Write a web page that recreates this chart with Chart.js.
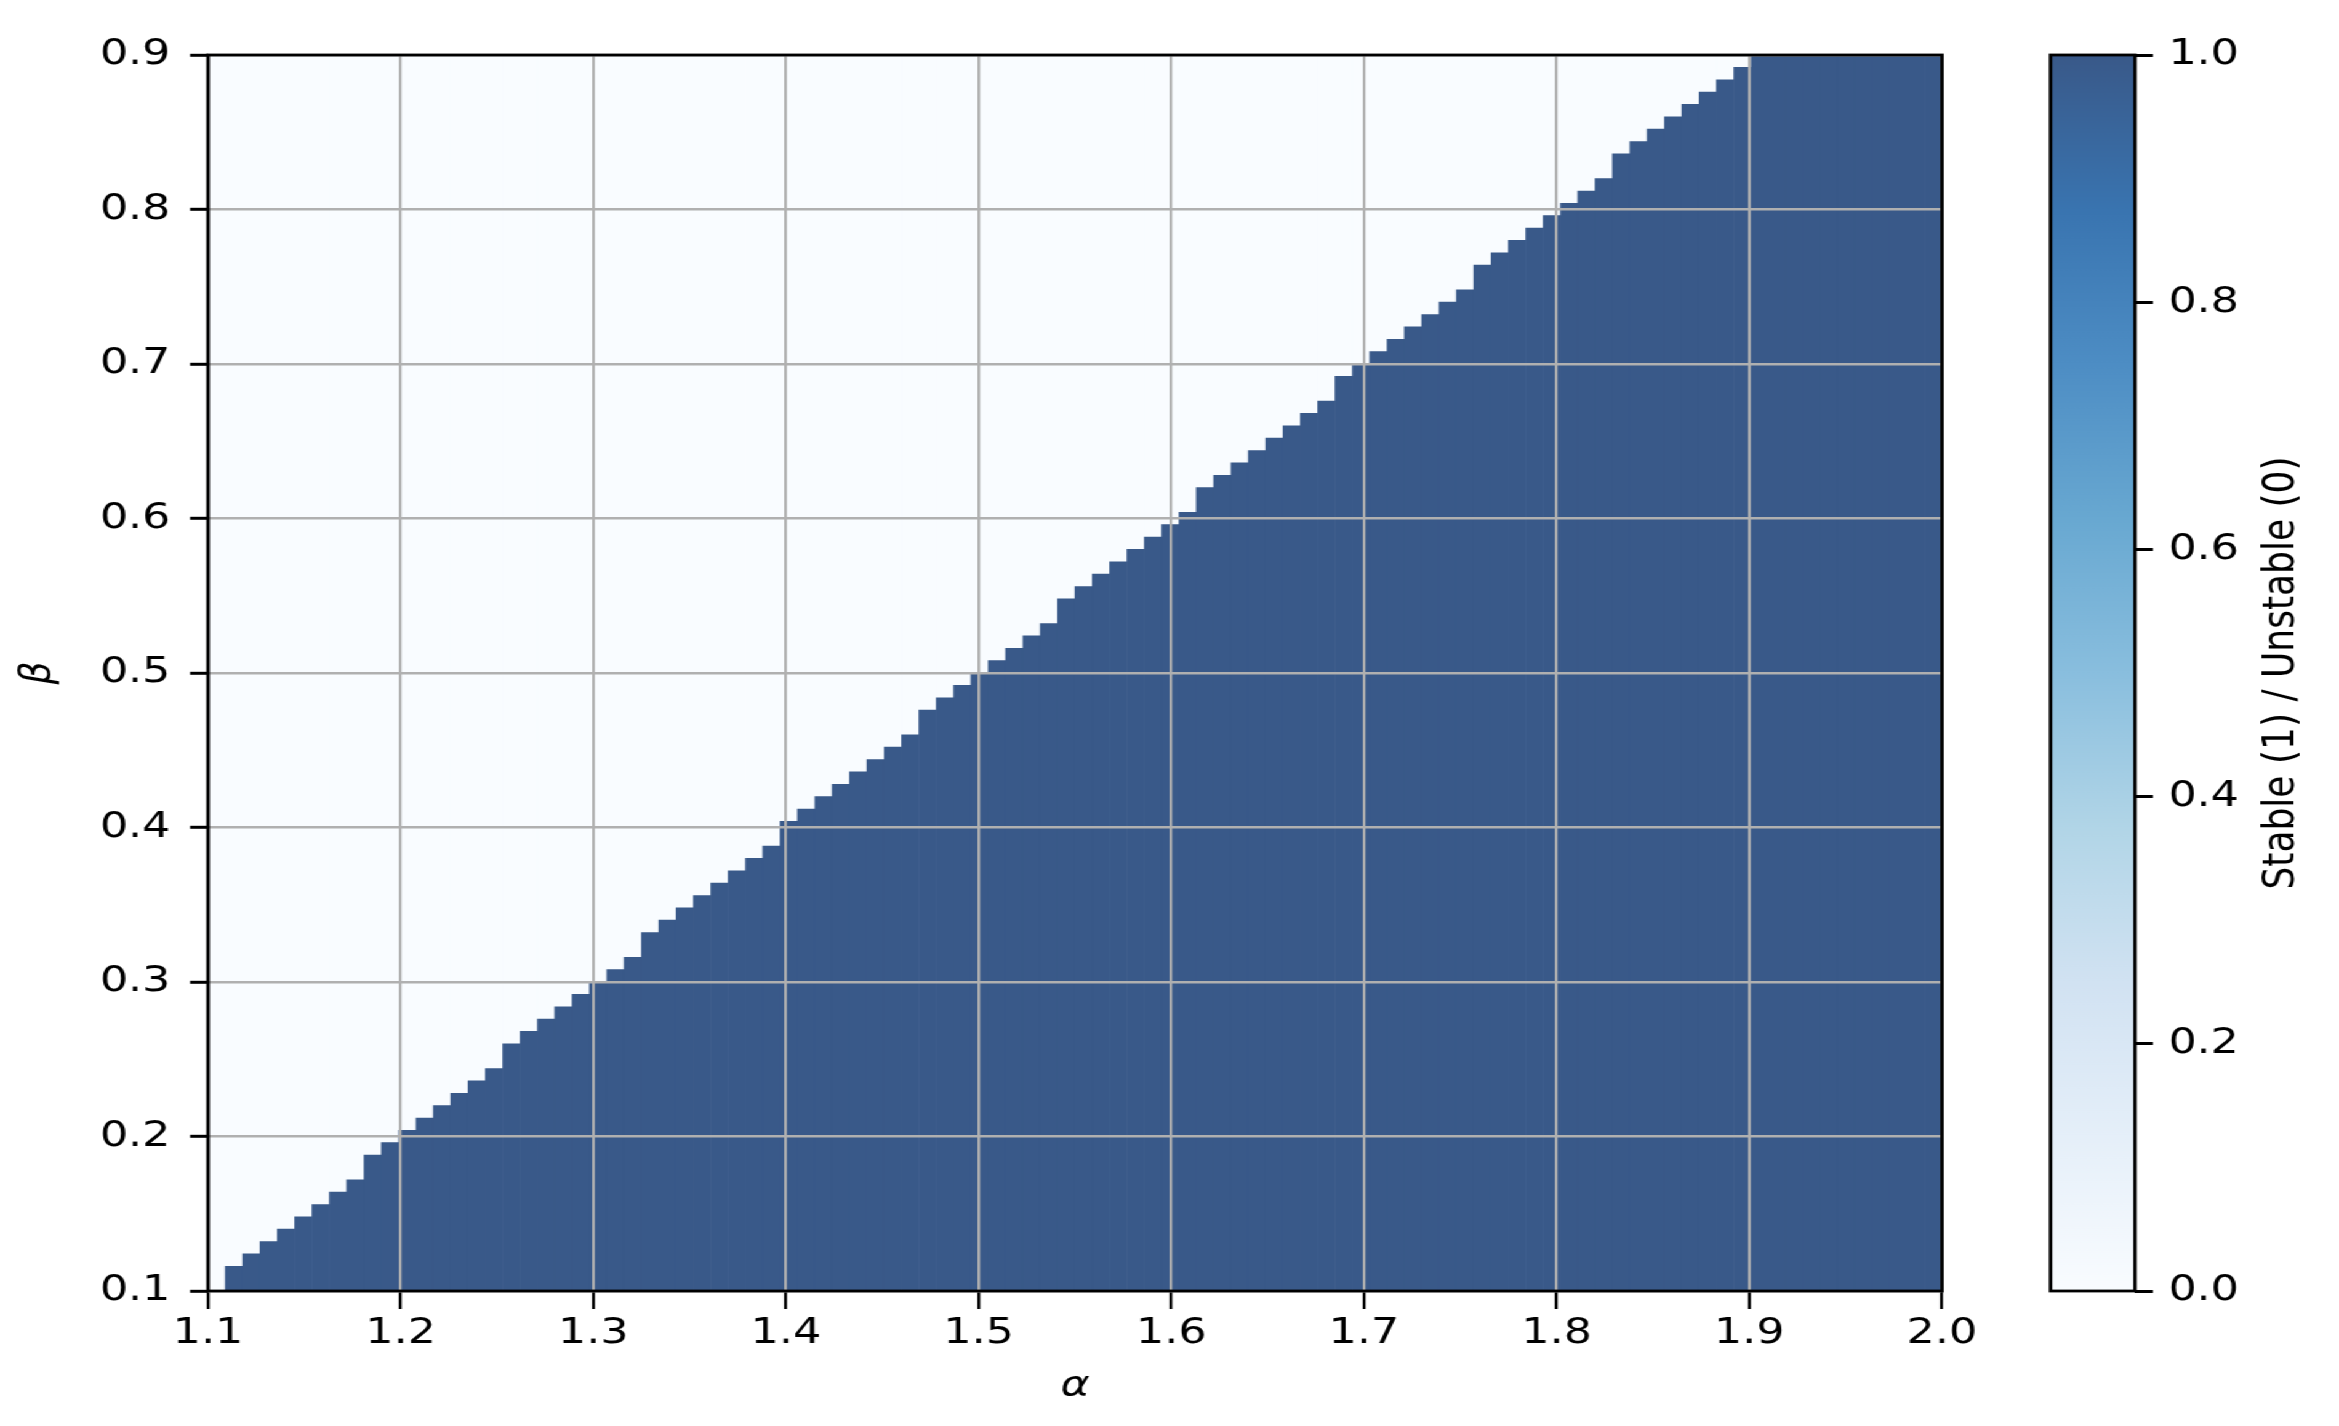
<!DOCTYPE html>
<html>
<head>
<meta charset="utf-8">
<script src="https://cdn.jsdelivr.net/npm/chart.js@4.4.1/dist/chart.umd.min.js"></script>
<style>
  html, body { margin: 0; padding: 0; background: #fff; overflow: hidden; }
  /* the reference is stretched sideways, so draw narrower and scale up */
  #stage { position: relative; width: 1900px; height: 1426px; transform: scaleX(1.231053); transform-origin: 0 0; }
  #stage canvas { position: absolute; left: 0; top: 0; }
</style>
</head>
<body>
<div id="stage">
  <canvas id="heat" width="1900" height="1426"></canvas>
  <canvas id="cbar" width="1900" height="1426"></canvas>
</div>
<script>
// grid of the stability map
const alphaRange = [1.1, 2.0];
const betaRange = [0.1, 0.9];
const gridSize = 100;

// number of stable cells (from beta = 0.1 upward) in each alpha column
const stableRows = [
  0, 2, 3, 4, 5, 6, 7, 8, 9, 11,
  12, 13, 14, 15, 16, 17, 18, 20, 21, 22,
  23, 24, 25, 26, 27, 29, 30, 31, 32, 33,
  34, 35, 36, 38, 39, 40, 41, 42, 43, 44,
  45, 47, 48, 49, 50, 51, 52, 53, 54, 56,
  57, 58, 59, 60, 61, 62, 63, 65, 66, 67,
  68, 69, 70, 71, 72, 74, 75, 76, 77, 78,
  79, 80, 81, 83, 84, 85, 86, 87, 88, 89,
  90, 92, 93, 94, 95, 96, 97, 98, 99, 100,
  100, 100, 100, 100, 100, 100, 100, 100, 100, 100
];

const alphaTicks = [1.1, 1.2, 1.3, 1.4, 1.5, 1.6, 1.7, 1.8, 1.9, 2.0];
const betaTicks = [0.1, 0.2, 0.3, 0.4, 0.5, 0.6, 0.7, 0.8, 0.9];
const colorbarTicks = [0.0, 0.2, 0.4, 0.6, 0.8, 1.0];

// Blues colormap, shown at alpha 0.8 on white
const bluesStops = [
  [0.0, 'rgb(249,252,255)'],
  [0.125, 'rgb(229,239,249)'],
  [0.25, 'rgb(209,226,242)'],
  [0.375, 'rgb(177,213,231)'],
  [0.5, 'rgb(137,190,222)'],
  [0.625, 'rgb(104,168,209)'],
  [0.75, 'rgb(77,141,196)'],
  [0.875, 'rgb(57,116,176)'],
  [1.0, 'rgb(57,89,137)']
];
const stableColor = 'rgb(57,89,137)';
const unstableColor = 'rgb(249,252,255)';

const tickFont = { family: 'DejaVu Sans', size: 36 };

let cellW = (alphaRange[1] - alphaRange[0]) / gridSize;
let cellH = (betaRange[1] - betaRange[0]) / gridSize;

let stableData = [];
let unstableData = [];
stableRows.forEach((rows, i) => {
  let x = alphaRange[0] + (i + 0.5) * cellW;
  let edge = betaRange[0] + rows * cellH;
  stableData.push(rows > 0 ? { x: x, y: [betaRange[0], edge] } : { x: x, y: null });
  unstableData.push(rows < gridSize ? { x: x, y: [edge, betaRange[1]] } : { x: x, y: null });
});

// black box round the plot area
const frame = {
  id: 'frame',
  afterDraw(chart) {
    let a = chart.chartArea;
    let ctx = chart.ctx;
    ctx.save();
    ctx.strokeStyle = '#000';
    ctx.lineWidth = 2.8;
    ctx.strokeRect(a.left, a.top, a.right - a.left, a.bottom - a.top);
    ctx.restore();
  }
};

let heat = new Chart(document.getElementById('heat').getContext('2d'), {
  type: 'bar',
  data: {
    datasets: [
      { data: stableData, backgroundColor: stableColor, grouped: false, borderWidth: 0,
        barPercentage: 1, categoryPercentage: 1 },
      { data: unstableData, backgroundColor: unstableColor, grouped: false, borderWidth: 0,
        barPercentage: 1, categoryPercentage: 1 }
    ]
  },
  options: {
    responsive: false,
    animation: false,
    events: [],
    layout: { padding: { left: 0, top: 55, right: 322.5, bottom: 0 } },
    plugins: { legend: { display: false }, tooltip: { enabled: false } },
    scales: {
      x: {
        type: 'linear',
        min: alphaRange[0],
        max: alphaRange[1],
        offset: false,
        afterBuildTicks: (axis) => { axis.ticks = alphaTicks.map(v => ({ value: v })); },
        afterFit: (axis) => { axis.height = 135; },
        grid: { z: 1, offset: false, color: '#b0b0b0', lineWidth: 2.2, tickLength: 18, tickColor: '#000', tickWidth: 2.4 },
        border: { display: false },
        ticks: { z: 1, font: tickFont, color: '#000', padding: 3, maxRotation: 0, autoSkip: false,
          callback: (v) => v.toFixed(1) },
        title: { display: true, text: 'α', color: '#000',
          font: { family: 'DejaVu Sans', size: 36, style: 'italic' }, padding: { top: 0, bottom: 18 } }
      },
      y: {
        type: 'linear',
        min: betaRange[0],
        max: betaRange[1],
        afterBuildTicks: (axis) => { axis.ticks = betaTicks.map(v => ({ value: v })); },
        afterFit: (axis) => { axis.width = 169; },
        grid: { z: 1, color: '#b0b0b0', lineWidth: 2.6, tickLength: 14.6, tickColor: '#000', tickWidth: 3 },
        border: { display: false },
        ticks: { z: 1, font: tickFont, color: '#000', padding: 16, autoSkip: false,
          callback: (v) => v.toFixed(1) },
        title: { display: true, text: 'β', color: '#000',
          font: { family: 'DejaVu Sans', size: 36, style: 'italic' }, padding: { top: 10, bottom: 0 } }
      }
    }
  },
  plugins: [frame]
});

// colorbar title reads bottom to top
const cbTitle = {
  id: 'cbTitle',
  afterDraw(chart) {
    let a = chart.chartArea;
    let ctx = chart.ctx;
    ctx.save();
    ctx.translate(1853.7, (a.top + a.bottom) / 2);
    ctx.rotate(-Math.PI / 2);
    ctx.font = '36px "DejaVu Sans"';
    ctx.fillStyle = '#000';
    ctx.textAlign = 'center';
    ctx.textBaseline = 'middle';
    ctx.fillText('Stable (1) / Unstable (0)', 0, 0);
    ctx.restore();
  }
};

function cbGradient(context) {
  let a = context.chart.chartArea;
  if (!a) return stableColor;
  let g = context.chart.ctx.createLinearGradient(0, a.bottom, 0, a.top);
  bluesStops.forEach(s => g.addColorStop(s[0], s[1]));
  return g;
}

let cbar = new Chart(document.getElementById('cbar').getContext('2d'), {
  type: 'bar',
  data: {
    labels: ['cb'],
    datasets: [{ data: [[colorbarTicks[0], colorbarTicks[colorbarTicks.length - 1]]],
      backgroundColor: cbGradient, borderWidth: 0, barPercentage: 1, categoryPercentage: 1 }]
  },
  options: {
    responsive: false,
    animation: false,
    events: [],
    layout: { padding: { left: 1665.7, top: 55, right: 0, bottom: 135 } },
    plugins: { legend: { display: false }, tooltip: { enabled: false } },
    scales: {
      x: { display: false },
      y: {
        position: 'right',
        min: 0,
        max: 1,
        afterBuildTicks: (axis) => { axis.ticks = colorbarTicks.map(v => ({ value: v })); },
        afterFit: (axis) => { axis.width = 165.7; },
        grid: { drawOnChartArea: false, tickLength: 14.6, tickColor: '#000', tickWidth: 3 },
        border: { display: false },
        ticks: { font: tickFont, color: '#000', padding: 12.5, autoSkip: false,
          callback: (v) => v.toFixed(1) }
      }
    }
  },
  plugins: [frame, cbTitle]
});
</script>
</body>
</html>
